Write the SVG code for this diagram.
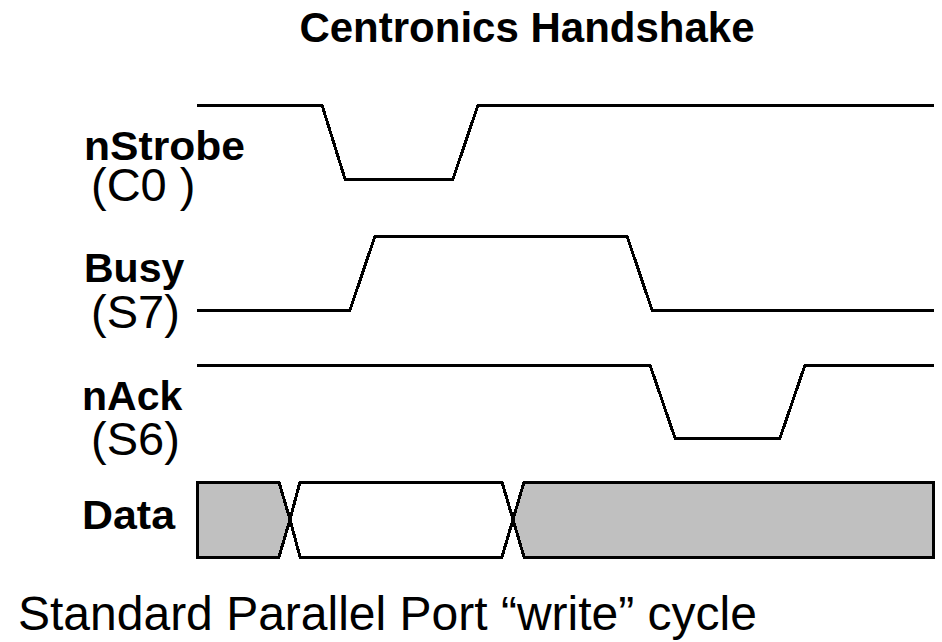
<svg xmlns="http://www.w3.org/2000/svg" width="942" height="642" viewBox="0 0 942 642">
  <style>
    .wave { fill: none; stroke: #000; stroke-width: 3; stroke-linejoin: miter; shape-rendering: crispEdges; }
    .bus { stroke: #000; stroke-width: 3; stroke-linejoin: miter; shape-rendering: crispEdges; }
    .busy { fill: #c0c0c0; }
    .valid { fill: #fff; }
    .name { font-family: "Liberation Sans", Arial, sans-serif; font-weight: bold; font-size: 41px; fill: #000; }
    .pin { font-family: "Liberation Sans", Arial, sans-serif; font-size: 47px; fill: #000; }
    .title { font-family: "Liberation Sans", Arial, sans-serif; font-weight: bold; font-size: 42px; fill: #000; }
    .caption { font-family: "Liberation Sans", Arial, sans-serif; font-size: 48px; fill: #000; }
  </style>
  <rect width="942" height="642" fill="#fff"/>

  <text class="title" x="527" y="42" text-anchor="middle">Centronics Handshake</text>

  <!-- strobe, driven by the host -->
  <g id="nStrobe">
    <text class="name" x="84" y="160" textLength="161" lengthAdjust="spacingAndGlyphs">nStrobe</text>
    <text class="pin" x="91" y="201">(C0 )</text>
    <path class="wave" d="M197,105 H322 L345,179 H453 L478,105 H934"/>
  </g>

  <!-- busy, driven by the printer -->
  <g id="Busy">
    <text class="name" x="84" y="282">Busy</text>
    <text class="pin" x="91" y="328">(S7)</text>
    <path class="wave" d="M197,310 H350 L375,236 H627 L652,310 H934"/>
  </g>

  <!-- acknowledge pulse -->
  <g id="nAck">
    <text class="name" x="82" y="410">nAck</text>
    <text class="pin" x="91" y="455">(S6)</text>
    <path class="wave" d="M197,365 H650 L675,438 H780 L805,365 H934"/>
  </g>

  <!-- data bus: don't-care, valid, don't-care -->
  <g id="Data">
    <text class="name" x="82" y="529" textLength="93" lengthAdjust="spacingAndGlyphs">Data</text>
    <polygon class="bus busy" points="197,482 279,482 290,519.5 279,557 197,557"/>
    <polygon class="bus valid" points="300,482 502,482 513,519.5 502,557 300,557 290,519.5"/>
    <polygon class="bus busy" points="524,482 933,482 933,557 524,557 513,519.5"/>
  </g>

  <g id="connectors"/>

  <text class="caption" x="18" y="630">Standard Parallel Port “write” cycle</text>
</svg>
